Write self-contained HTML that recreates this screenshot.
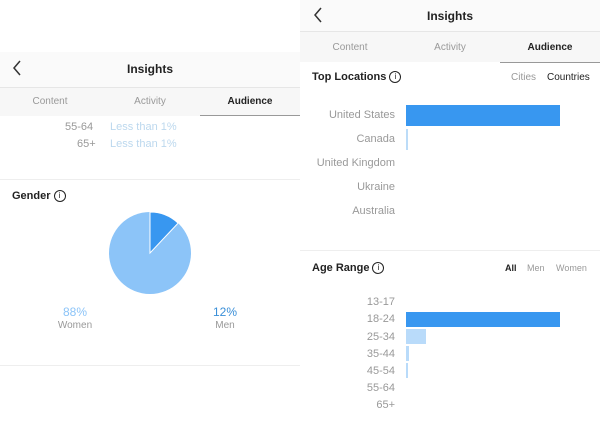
<!DOCTYPE html><html><head><style>
body{margin:0;width:600px;height:421px;background:#fff;font-family:"Liberation Sans",sans-serif;position:relative;overflow:hidden}
.a{position:absolute;white-space:nowrap}
.t{font-size:10px;color:#999}
.g{font-size:11px;color:#999}
.b{font-weight:bold;color:#222}
.i{display:inline-block;width:10px;height:10px;border:1px solid #222;border-radius:50%;font-size:8px;text-align:center;line-height:10px;font-weight:normal;margin-left:3px;vertical-align:1px}
</style></head><body>
<!-- left panel -->
<div class="a" style="left:0;top:52px;width:300px;height:35px;background:#fafafa;border-bottom:1px solid #e6e6e6"></div>
<svg class="a" style="left:12px;top:60px" width="10" height="16"><path d="M8,1 L2,8 L8,15" fill="none" stroke="#333" stroke-width="1.5"/></svg>
<div class="a b" style="left:0;width:300px;text-align:center;top:62px;font-size:12px">Insights</div>
<div class="a" style="left:0;top:88px;width:300px;height:28px;background:#f7f7f7"></div>
<div class="a t" style="left:0;width:100px;text-align:center;top:96px">Content</div>
<div class="a t" style="left:100px;width:100px;text-align:center;top:96px">Activity</div>
<div class="a b" style="left:200px;width:100px;text-align:center;top:96px;font-size:10px">Audience</div>
<div class="a" style="left:200px;top:115px;width:100px;height:1px;background:#999"></div>
<div class="a g" style="left:65px;top:121px">55-64</div><div class="a g" style="left:110px;top:121px;color:#bcd8ee">Less than 1%</div>
<div class="a g" style="left:77px;top:138px">65+</div><div class="a g" style="left:110px;top:138px;color:#bcd8ee">Less than 1%</div>
<div class="a" style="left:0;top:179px;width:300px;height:1px;background:#eee"></div>
<div class="a b" style="left:12px;top:190px;font-size:11px">Gender<span class="i">i</span></div>
<svg class="a" style="left:0;top:0" width="300" height="421"><circle cx="150" cy="253" r="41" fill="#8cc4f8"/><path d="M150,253 L150,212 A41,41 0 0 1 178.1,223.1 Z" fill="#3897f0" stroke="#fff" stroke-width="1"/></svg>
<div class="a" style="left:50px;width:50px;text-align:center;top:305px;font-size:12px;color:#8cc4f8">88%</div>
<div class="a t" style="left:50px;width:50px;text-align:center;top:320px">Women</div>
<div class="a" style="left:200px;width:50px;text-align:center;top:305px;font-size:12px;color:#3a8fd8">12%</div>
<div class="a t" style="left:200px;width:50px;text-align:center;top:320px">Men</div>
<div class="a" style="left:0;top:365px;width:300px;height:1px;background:#eee"></div>
<!-- right panel -->
<div class="a" style="left:300px;top:0;width:300px;height:31px;background:#fafafa;border-bottom:1px solid #e6e6e6"></div>
<svg class="a" style="left:313px;top:7px" width="10" height="16"><path d="M8,1 L2,8 L8,15" fill="none" stroke="#333" stroke-width="1.5"/></svg>
<div class="a b" style="left:300px;width:300px;text-align:center;top:9px;font-size:12px">Insights</div>
<div class="a" style="left:300px;top:32px;width:300px;height:30px;background:#f7f7f7"></div>
<div class="a t" style="left:300px;width:100px;text-align:center;top:42px">Content</div>
<div class="a t" style="left:400px;width:100px;text-align:center;top:42px">Activity</div>
<div class="a b" style="left:500px;width:100px;text-align:center;top:42px;font-size:10px">Audience</div>
<div class="a" style="left:500px;top:62px;width:100px;height:1px;background:#999"></div>
<div class="a b" style="left:312px;top:71px;font-size:11px">Top Locations<span class="i">i</span></div>
<div class="a t" style="left:511px;top:72px">Cities</div><div class="a" style="left:547px;top:72px;font-size:10px;color:#222">Countries</div>
<div class="a g" style="right:205px;top:109px">United States</div>
<div class="a g" style="right:205px;top:133px">Canada</div>
<div class="a g" style="right:205px;top:157px">United Kingdom</div>
<div class="a g" style="right:205px;top:181px">Ukraine</div>
<div class="a g" style="right:205px;top:205px">Australia</div>
<div class="a" style="left:406px;top:105px;width:154px;height:21px;background:#3897f0"></div>
<div class="a" style="left:406px;top:129px;width:2px;height:21px;background:#bcdcf8"></div>
<div class="a" style="left:300px;top:250px;width:300px;height:1px;background:#eee"></div>
<div class="a b" style="left:312px;top:262px;font-size:11px">Age Range<span class="i">i</span></div>
<div class="a" style="left:505px;top:263px;font-size:9px;color:#222;font-weight:bold">All</div>
<div class="a t" style="left:527px;top:263px;font-size:9px">Men</div>
<div class="a t" style="left:556px;top:263px;font-size:9px">Women</div>
<div class="a g" style="right:205px;top:296px">13-17</div>
<div class="a g" style="right:205px;top:313px">18-24</div>
<div class="a g" style="right:205px;top:331px">25-34</div>
<div class="a g" style="right:205px;top:348px">35-44</div>
<div class="a g" style="right:205px;top:365px">45-54</div>
<div class="a g" style="right:205px;top:382px">55-64</div>
<div class="a g" style="right:205px;top:399px">65+</div>
<div class="a" style="left:406px;top:312px;width:154px;height:15px;background:#3897f0"></div>
<div class="a" style="left:406px;top:329px;width:20px;height:15px;background:#b9dbfa"></div>
<div class="a" style="left:406px;top:346px;width:3px;height:15px;background:#b9dbfa"></div>
<div class="a" style="left:406px;top:363px;width:2px;height:15px;background:#b9dbfa"></div>
</body></html>
